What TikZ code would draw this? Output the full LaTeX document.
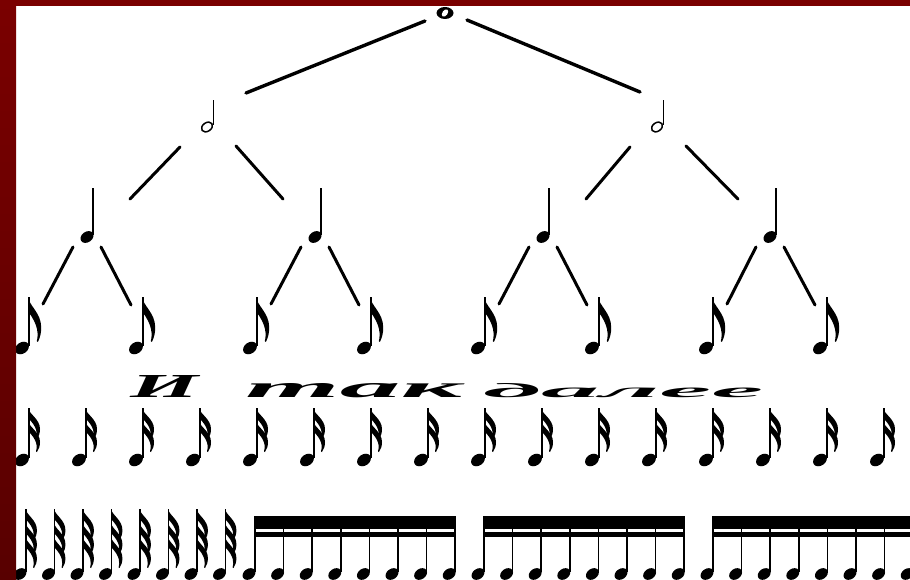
\documentclass[tikz,border=0pt]{standalone}
\usepackage{fontspec}
\newfontfamily\rusfont{Liberation Serif}
\usetikzlibrary{calc}
\definecolor{framered}{RGB}{122,0,0}
\definecolor{framedark}{RGB}{88,0,0}
\tikzset{
  branch/.style={line width=3pt, line cap=round},
  topbranch/.style={line width=3.4pt, line cap=round},
  pics/flag/.style={code={
    \fill (0,0) .. controls (1,6) and (12,11) .. (12,21)
          .. controls (12,25) and (11,28) .. (9,31) -- (8,30.5)
          .. controls (9.5,26) and (9.5,19) .. (0,10) -- cycle;}},
  pics/wholenote/.style={code={
    \fill (0,0) ellipse [x radius=8.5pt, y radius=6pt];
    \fill[white, rotate=-35] (0,0) ellipse [x radius=2.6pt, y radius=4.2pt];}},
  pics/halfnote/.style={code={
    \draw[line width=1.5pt, rotate=35] (0,0) ellipse [x radius=6pt, y radius=4.3pt];
    \draw[line width=1.3pt] (6.5,-2) -- (6.5,-27);}},
  pics/quarter/.style={code={
    \fill[rotate=35] (0,0) ellipse [x radius=7pt, y radius=5.3pt];
    \draw[line width=1.8pt] (6,-2) -- (6,-49);}},
  pics/eighth/.style={code={
    \fill[rotate=35] (0,0) ellipse [x radius=7.5pt, y radius=5.6pt];
    \draw[line width=2pt] (6.5,-2) -- (6.5,-51);
    \pic[xscale=1.1, yscale=1.45] at (6,-51) {flag};}},
  pics/sixteenth/.style={code={
    \fill[rotate=35] (0,0) ellipse [x radius=7.5pt, y radius=5.6pt];
    \draw[line width=2pt] (6.5,-2) -- (6.5,-52);
    \pic at (6,-52) {flag};
    \pic at (6,-39) {flag};}},
  pics/thirtysecond/.style={code={
    \fill[rotate=35] (0,0) ellipse [x radius=7pt, y radius=5.2pt];
    \draw[line width=1.8pt] (6,-2) -- (6,-65);
    \pic[xscale=0.95] at (5.5,-65) {flag};
    \pic[xscale=0.95] at (5.5,-51) {flag};
    \pic[xscale=0.95] at (5.5,-37) {flag};}},
  pics/beamnote/.style={code={
    \fill[rotate=35] (0,0) ellipse [x radius=7pt, y radius=5.2pt];
    \draw[line width=1.6pt] (6,-2) -- (6,-58);}},
}
\begin{document}
\begin{tikzpicture}[x=1pt, y=-1pt]
\useasboundingbox (0,0) rectangle (910,580);
\fill[white] (0,0) rectangle (910,580);
\begin{scope}
\clip (0,0) rectangle (910,580);
% named positions of the notes of the tree
\coordinate (w) at (445,13);
\coordinate (h1) at (207,127);
\coordinate (h2) at (657,127);
\coordinate (q1) at (87,237);
\coordinate (q2) at (315,237);
\coordinate (q3) at (543,237);
\coordinate (q4) at (770,237);
\foreach \i in {1,...,8} \coordinate (e\i) at ({22+114*(\i-1)},348);
% notes
\pic at (w) {wholenote};
\pic at (h1) {halfnote};
\pic at (h2) {halfnote};
\foreach \i in {1,...,4} \pic at (q\i) {quarter};
\foreach \i in {1,...,8} \pic at (e\i) {eighth};
% branches
\draw[topbranch] ($(w)+(-20,8)$) -- ($(h1)+(39,-34)$);
\draw[topbranch] ($(w)+(22,7)$) -- ($(h2)+(-17,-35)$);
\draw[branch] ($(h1)+(-27,20)$) -- ($(q1)+(43,-38)$);
\draw[branch] ($(h1)+(29,19)$) -- ($(q2)+(-32,-38)$);
\draw[branch] ($(h2)+(-27,20)$) -- ($(q3)+(43,-38)$);
\draw[branch] ($(h2)+(29,19)$) -- ($(q4)+(-32,-38)$);
\draw[branch] ($(q1)+(-14,10)$) -- ($(e1)+(21,-44)$);
\draw[branch] ($(q1)+(14,10)$) -- ($(e2)+(-5,-43)$);
\draw[branch] ($(q2)+(-14,10)$) -- ($(e3)+(21,-44)$);
\draw[branch] ($(q2)+(14,10)$) -- ($(e4)+(-5,-43)$);
\draw[branch] ($(q3)+(-14,10)$) -- ($(e5)+(21,-44)$);
\draw[branch] ($(q3)+(14,10)$) -- ($(e6)+(-5,-43)$);
\draw[branch] ($(q4)+(-14,10)$) -- ($(e7)+(21,-44)$);
\draw[branch] ($(q4)+(14,10)$) -- ($(e8)+(-5,-43)$);
% text
\node[anchor=base west, inner sep=0pt] (t1) at (130,397)
  {\resizebox{68pt}{22pt}{\rusfont\bfseries\itshape И}};
\node[anchor=base west, inner sep=0pt] (t2) at (245,397)
  {\resizebox{217pt}{14pt}{\rusfont\bfseries\itshape так}};
\node[anchor=base west, inner sep=0pt] (t3) at (483,397)
  {\resizebox{280pt}{14pt}{\rusfont\bfseries\itshape далее}};
% sixteenths
\foreach \i in {0,...,15} \pic at ({22+57*\i},460) {sixteenth};
% thirty-seconds
\foreach \i in {0,...,7} \pic at ({20+28.5*\i},574) {thirtysecond};
\foreach \s in {255,484,713} {
  \foreach \j in {0,...,7} \pic at ({\s-6+28.6*\j},574) {beamnote};
  \fill (\s-0.8,516) rectangle ({\s+200.2+0.8},529);
  \fill (\s-0.8,532) rectangle ({\s+200.2+0.8},536.5);
}
\end{scope}
% frame
\fill[framered] (0,0) rectangle (910,6);
\shade[top color=framered, bottom color=framedark] (0,0) rectangle (16,580);
\end{tikzpicture}
\end{document}
